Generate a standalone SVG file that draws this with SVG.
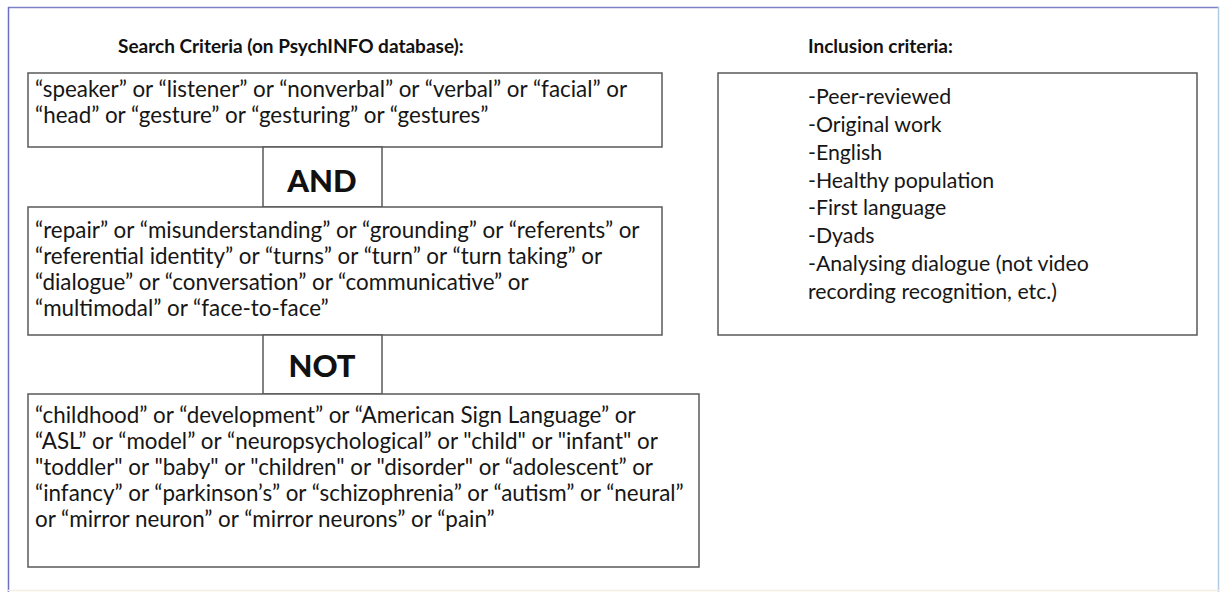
<svg xmlns="http://www.w3.org/2000/svg" width="1220" height="592" viewBox="0 0 1220 592">
  <style>
    .box { fill: #ffffff; stroke: #5a5a5a; stroke-width: 1.5; }
    .body { font-family: "Lato", "Open Sans", "Liberation Sans", sans-serif; font-size: 22.4px; fill: #161616; }
    .list { font-family: "Lato", "Open Sans", "Liberation Sans", sans-serif; font-size: 21.3px; fill: #161616; }
    .head { font-family: "Lato", "Open Sans", "Liberation Sans", sans-serif; font-size: 19px; font-weight: bold; fill: #111111; }
    .op { font-family: "Lato", "Open Sans", "Liberation Sans", sans-serif; font-size: 31px; font-weight: 900; fill: #111111; text-anchor: middle; }
  </style>

  <!-- page background and frame -->
  <rect x="0" y="0" width="1220" height="592" fill="#ffffff"/>
  <g id="frame" fill="none">
    <line x1="8" y1="7.5" x2="1219" y2="7.5" stroke="#7c80c4" stroke-width="1.5"/>
    <line x1="8.5" y1="7" x2="8.5" y2="592" stroke="#6a6fc0" stroke-width="1.5"/>
    <line x1="1218.5" y1="7" x2="1218.5" y2="592" stroke="#b4cbe2" stroke-width="1.5"/>
    <line x1="8" y1="590.5" x2="1219" y2="590.5" stroke="#f1efe4" stroke-width="1.5"/>
  </g>

  <!-- column headings -->
  <text class="head" x="118" y="53">Search Criteria (on PsychINFO database):</text>
  <text class="head" x="808" y="53">Inclusion criteria:</text>

  <g id="terms-communication">
    <rect class="box" x="28" y="73" width="634" height="74"/>
    <text class="body" x="35" y="97">“speaker” or “listener” or “nonverbal” or “verbal” or “facial” or</text>
    <text class="body" x="35" y="123">“head” or “gesture” or “gesturing” or “gestures”</text>
  </g>

  <g id="op-and">
    <rect class="box" x="263" y="147" width="119" height="60"/>
    <text class="op" x="322" y="192">AND</text>
  </g>

  <g id="terms-dialogue">
    <rect class="box" x="28" y="207" width="634" height="128"/>
    <text class="body" x="35" y="238">“repair” or “misunderstanding” or “grounding” or “referents” or</text>
    <text class="body" x="35" y="264">“referential identity” or “turns” or “turn” or “turn taking” or</text>
    <text class="body" x="35" y="290">“dialogue” or “conversation” or “communicative” or</text>
    <text class="body" x="35" y="316">“multimodal” or “face-to-face”</text>
  </g>

  <g id="op-not">
    <rect class="box" x="263" y="335" width="119" height="59"/>
    <text class="op" x="322" y="377">NOT</text>
  </g>

  <g id="terms-excluded">
    <rect class="box" x="28" y="394" width="671" height="173"/>
    <text class="body" x="35" y="423">“childhood” or “development” or “American Sign Language” or</text>
    <text class="body" x="35" y="449">“ASL” or “model” or “neuropsychological” or "child" or "infant" or</text>
    <text class="body" x="35" y="475">"toddler" or "baby" or "children" or "disorder" or “adolescent” or</text>
    <text class="body" x="35" y="501">“infancy” or “parkinson’s” or “schizophrenia” or “autism” or “neural”</text>
    <text class="body" x="35" y="527">or “mirror neuron” or “mirror neurons” or “pain”</text>
  </g>

  <g id="inclusion">
    <rect class="box" x="718" y="73" width="479" height="262"/>
    <text class="list" x="808" y="104">-Peer-reviewed</text>
    <text class="list" x="808" y="132">-Original work</text>
    <text class="list" x="808" y="160">-English</text>
    <text class="list" x="808" y="188">-Healthy population</text>
    <text class="list" x="808" y="215">-First language</text>
    <text class="list" x="808" y="243">-Dyads</text>
    <text class="list" x="808" y="271">-Analysing dialogue (not video</text>
    <text class="list" x="808" y="299">recording recognition, etc.)</text>
  </g>
</svg>
